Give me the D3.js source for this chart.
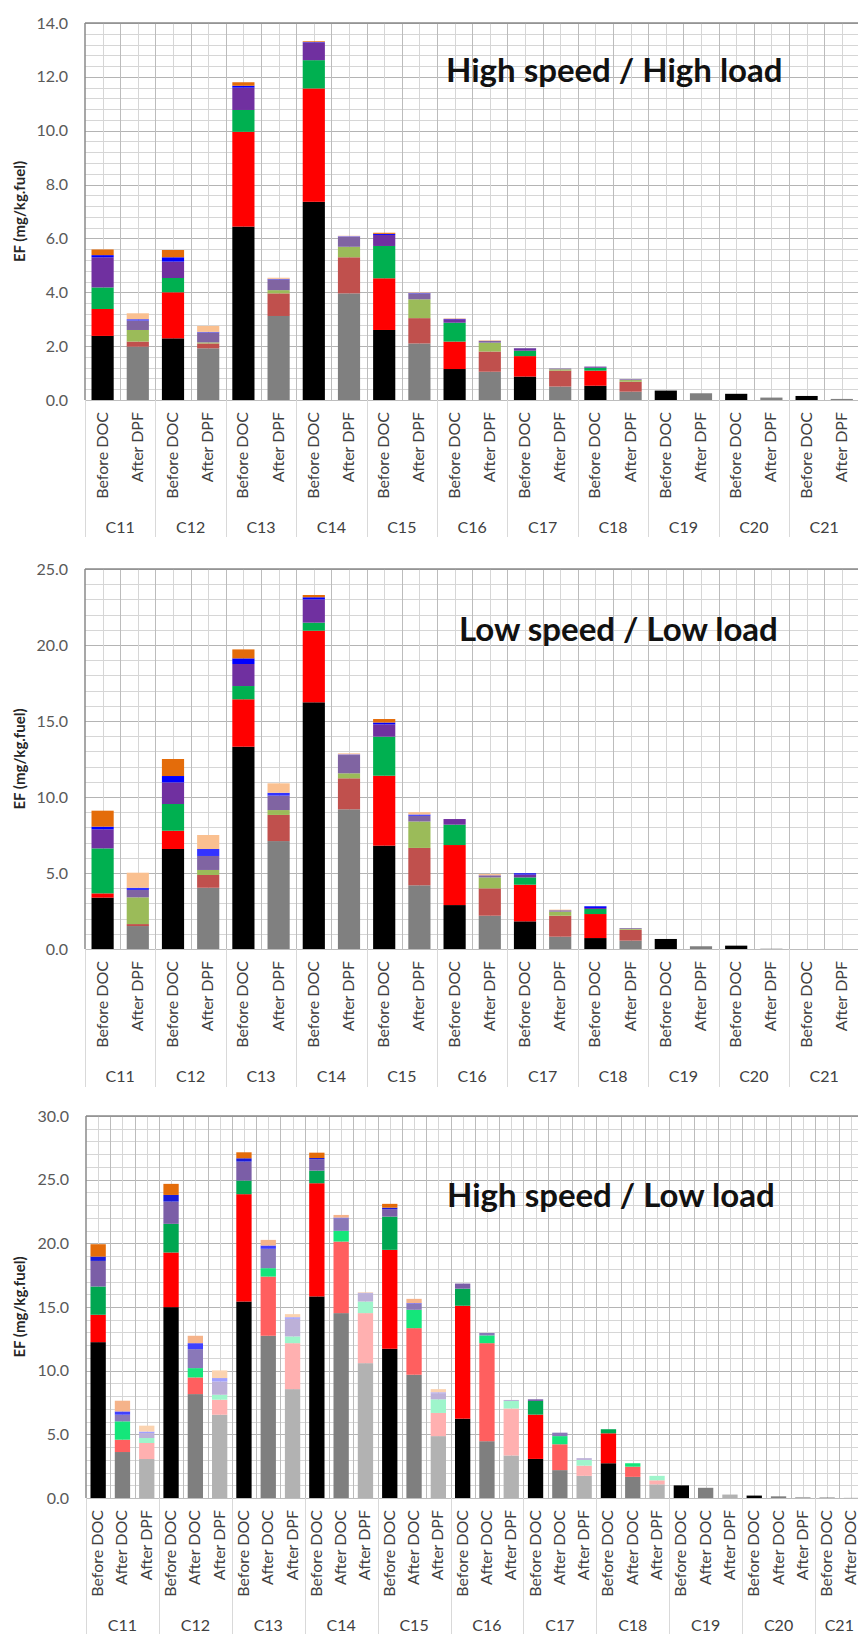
<!DOCTYPE html>
<html>
<head>
<meta charset="utf-8">
<script src="https://cdn.jsdelivr.net/npm/d3@7"></script>
<style>
  body { margin: 0; background: #fff; }
  text { font-family: Lato, "Open Sans", sans-serif; }
</style>
</head>
<body>
<svg id="chart" width="858" height="1634"></svg>
<script>
const groups = ["C11", "C12", "C13", "C14", "C15", "C16", "C17", "C18", "C19", "C20", "C21"];
const twoStages = ["Before DOC", "After DPF"];
const threeStages = ["Before DOC", "After DOC", "After DPF"];
const layers = ["l0", "l1", "l2", "l3", "l4", "l5"];

// segment heights per group, bottom layer first (mg/kg.fuel); null = no bar in that slot
const hhBeforeDoc = [
  [2.38, 1.00, 0.80, 1.12, 0.08, 0.21],
  [2.29, 1.71, 0.53, 0.61, 0.16, 0.27],
  [6.44, 3.52, 0.81, 0.83, 0.07, 0.13],
  [7.36, 4.21, 1.05, 0.65, 0.02, 0.03],
  [2.60, 1.92, 1.20, 0.41, 0.04, 0.04],
  [1.15, 1.02, 0.70, 0.13, 0.01, 0.01],
  [0.87, 0.76, 0.20, 0.07, 0.02, 0.01],
  [0.53, 0.56, 0.11, 0.04, 0, 0],
  [0.35, 0, 0, 0, 0, 0],
  [0.23, 0, 0, 0, 0, 0],
  [0.15, 0, 0, 0, 0, 0]
];
const hhAfterDpf = [
  [1.98, 0.19, 0.43, 0.35, 0.05, 0.22],
  [1.92, 0.18, 0.04, 0.37, 0.02, 0.22],
  [3.12, 0.84, 0.12, 0.40, 0.02, 0.04],
  [3.96, 1.34, 0.39, 0.37, 0.02, 0.02],
  [2.10, 0.94, 0.70, 0.22, 0.02, 0.02],
  [1.05, 0.75, 0.33, 0.07, 0, 0.02],
  [0.50, 0.59, 0.05, 0.03, 0, 0],
  [0.31, 0.37, 0.06, 0.03, 0, 0],
  [0.25, 0, 0, 0, 0, 0],
  [0.09, 0, 0, 0, 0, 0],
  [0.04, 0, 0, 0, 0, 0]
];
const llBeforeDoc = [
  [3.38, 0.28, 2.96, 1.25, 0.18, 1.05],
  [6.58, 1.20, 1.76, 1.42, 0.42, 1.12],
  [13.31, 3.12, 0.87, 1.45, 0.37, 0.59],
  [16.23, 4.71, 0.53, 1.53, 0.14, 0.15],
  [6.80, 4.60, 2.57, 0.81, 0.12, 0.23],
  [2.89, 3.95, 1.34, 0.37, 0, 0],
  [1.82, 2.41, 0.48, 0.19, 0.08, 0],
  [0.72, 1.58, 0.33, 0.07, 0.11, 0],
  [0.66, 0, 0, 0, 0, 0],
  [0.22, 0, 0, 0, 0, 0],
  [0, 0, 0, 0, 0, 0]
];
const llAfterDpf = [
  [1.51, 0.13, 1.76, 0.48, 0.15, 0.99],
  [4.03, 0.84, 0.33, 0.92, 0.46, 0.92],
  [7.10, 1.72, 0.32, 0.95, 0.19, 0.62],
  [9.19, 2.04, 0.33, 1.20, 0.04, 0.07],
  [4.19, 2.46, 1.74, 0.37, 0.09, 0.15],
  [2.19, 1.80, 0.72, 0.14, 0, 0.08],
  [0.81, 1.38, 0.27, 0.09, 0, 0.04],
  [0.55, 0.72, 0.06, 0.05, 0, 0],
  [0.18, 0, 0, 0, 0, 0],
  [0.02, 0, 0, 0, 0, 0],
  [0, 0, 0, 0, 0, 0]
];
const hlBeforeDoc = [
  [12.24, 2.15, 2.22, 2.01, 0.34, 0.97],
  [14.99, 4.29, 2.25, 1.75, 0.52, 0.87],
  [15.43, 8.43, 1.07, 1.49, 0.26, 0.47],
  [15.83, 8.89, 0.99, 0.89, 0.10, 0.42],
  [11.72, 7.77, 2.61, 0.58, 0.12, 0.30],
  [6.23, 8.87, 1.34, 0.40, 0, 0],
  [3.07, 3.48, 1.07, 0.13, 0, 0],
  [2.73, 2.35, 0.32, 0, 0, 0],
  [0.99, 0, 0, 0, 0, 0],
  [0.19, 0, 0, 0, 0, 0],
  [0.02, 0, 0, 0, 0, 0]
];
const hlAfterDoc = [
  [3.61, 0.97, 1.44, 0.52, 0.26, 0.84],
  [8.16, 1.31, 0.73, 1.49, 0.47, 0.58],
  [12.74, 4.65, 0.66, 1.52, 0.26, 0.44],
  [14.52, 5.62, 0.84, 0.99, 0.05, 0.21],
  [9.68, 3.66, 1.44, 0.47, 0.05, 0.34],
  [4.46, 7.70, 0.61, 0.19, 0, 0],
  [2.19, 2.03, 0.64, 0.27, 0, 0],
  [1.66, 0.80, 0.27, 0, 0, 0],
  [0.80, 0, 0, 0, 0, 0],
  [0.13, 0, 0, 0, 0, 0],
  [0.01, 0, 0, 0, 0, 0]
];
const hlAfterDpf = [
  [3.06, 1.26, 0.39, 0.39, 0.12, 0.46],
  [6.54, 1.18, 0.39, 1.04, 0.27, 0.60],
  [8.55, 3.61, 0.53, 1.38, 0.13, 0.24],
  [10.59, 3.93, 0.91, 0.66, 0.03, 0.05],
  [4.86, 1.82, 1.07, 0.48, 0.07, 0.25],
  [3.34, 3.69, 0.59, 0.08, 0, 0],
  [1.74, 0.80, 0.45, 0.14, 0, 0],
  [1.07, 0.32, 0.35, 0, 0, 0],
  [0.27, 0, 0, 0, 0, 0],
  [0.08, 0, 0, 0, 0, 0],
  null
];

const beforeDocColors = ["#000000", "#ff0000", "#00b050", "#7030a0", "#0000ff", "#e46c0a"];
const afterDpfColors = ["#808080", "#c0504d", "#9bbb59", "#8064a2", "#3333ff", "#fac090"];
const hlBeforeDocColors = ["#000000", "#ff0000", "#00a651", "#7b5ea7", "#1a1ad8", "#e46c0a"];
const hlAfterDocColors = ["#7f7f7f", "#ff5f5f", "#14e67a", "#8a78b8", "#4040ff", "#f5b38a"];
const hlAfterDpfColors = ["#b2b2b2", "#ffb0b0", "#9ef5cb", "#bcb0d8", "#a0a0ff", "#fbd3b0"];

const svg = d3.select("#chart");

function drawPanel(p) {
  const rows = [];
  groups.forEach((g, gi) => {
    p.stages.forEach(s => {
      const vals = p.data[s][gi];
      if (vals == null) return;
      const row = { key: g + "|" + s, group: g, stage: s };
      layers.forEach((l, i) => row[l] = vals[i]);
      rows.push(row);
    });
  });
  const keys = rows.map(r => r.key);

  const x = d3.scaleBand()
    .domain(keys)
    .range([p.left, p.left + p.step * keys.length])
    .paddingInner(0.37)
    .paddingOuter(0.185);
  const y = d3.scaleLinear().domain([0, p.yMax]).range([p.bottom, p.top]);
  const step = x.step();
  const x0 = x.range()[0];
  const right = x.range()[1];

  const g = svg.append("g");

  // horizontal grid
  g.selectAll(".hminor")
    .data(d3.range(0, p.yMax + 1e-9, p.minor))
    .enter().append("line")
    .attr("x1", x0).attr("x2", right)
    .attr("y1", d => Math.round(y(d)) + 0.5).attr("y2", d => Math.round(y(d)) + 0.5)
    .attr("stroke", "#d6d6d6").attr("stroke-width", 1);
  g.selectAll(".hmajor")
    .data(d3.range(0, p.yMax + 1e-9, p.major))
    .enter().append("line")
    .attr("x1", x0).attr("x2", right)
    .attr("y1", d => Math.round(y(d)) + 0.5).attr("y2", d => Math.round(y(d)) + 0.5)
    .attr("stroke", "#b4b4b4").attr("stroke-width", 1);

  // vertical grid: slot edges and slot centres
  g.selectAll(".vcenter")
    .data(keys)
    .enter().append("line")
    .attr("x1", d => Math.round(x(d) + x.bandwidth() / 2) + 0.5)
    .attr("x2", d => Math.round(x(d) + x.bandwidth() / 2) + 0.5)
    .attr("y1", p.top).attr("y2", p.bottom)
    .attr("stroke", "#d6d6d6").attr("stroke-width", 1);
  g.selectAll(".vedge")
    .data(d3.range(1, keys.length + 1))
    .enter().append("line")
    .attr("x1", i => Math.round(x0 + i * step) + 0.5)
    .attr("x2", i => Math.round(x0 + i * step) + 0.5)
    .attr("y1", p.top).attr("y2", p.bottom)
    .attr("stroke", "#bcbcbc").attr("stroke-width", 1);

  // stacked bars
  const series = d3.stack().keys(layers)(rows);
  series.forEach((layer, li) => {
    g.selectAll(".bar" + li)
      .data(layer)
      .enter().append("rect")
      .attr("x", d => x(d.data.key))
      .attr("width", x.bandwidth())
      .attr("y", d => y(d[1]))
      .attr("height", d => Math.max(0, y(d[0]) - y(d[1])))
      .attr("fill", d => p.colors[d.data.stage][li]);
  });

  // frame
  g.append("line").attr("x1", x0).attr("x2", right)
    .attr("y1", p.top).attr("y2", p.top)
    .attr("stroke", "#8a8a8a").attr("stroke-width", 1.5);
  g.append("line").attr("x1", x0).attr("x2", x0)
    .attr("y1", p.top).attr("y2", p.bottom)
    .attr("stroke", "#8a8a8a").attr("stroke-width", 1.5);
  g.append("line").attr("x1", x0).attr("x2", right)
    .attr("y1", p.bottom + 0.5).attr("y2", p.bottom + 0.5)
    .attr("stroke", "#bdbdbd").attr("stroke-width", 1);

  // y axis
  const yAxis = d3.axisLeft(y)
    .tickValues(d3.range(0, p.yMax + 1e-9, p.major))
    .tickFormat(d3.format(".1f"))
    .tickSize(0)
    .tickPadding(17);
  const ya = g.append("g").attr("transform", `translate(${x0},0)`).call(yAxis);
  ya.select(".domain").remove();
  ya.selectAll("text")
    .style("font-family", "Lato, 'Open Sans', sans-serif")
    .style("font-size", "16px")
    .attr("fill", "#595959");

  g.append("text")
    .attr("transform", `translate(21,${(p.top + p.bottom) / 2}) rotate(-90)`)
    .attr("text-anchor", "middle")
    .attr("dominant-baseline", "middle")
    .style("font-size", "15px")
    .style("font-weight", "bold")
    .attr("fill", "#262626")
    .text("EF (mg/kg.fuel)");

  // category labels
  g.selectAll(".xlab")
    .data(rows)
    .enter().append("text")
    .attr("transform", d => `translate(${x(d.key) + x.bandwidth() / 2 + 5},${p.bottom + 12}) rotate(-90)`)
    .attr("text-anchor", "end")
    .style("font-size", "16px")
    .attr("fill", "#404040")
    .text(d => d.stage);

  // group extents from the slots each group occupies
  const spans = groups.map(gr => {
    const idx = keys.map((k, i) => k.startsWith(gr + "|") ? i : -1).filter(i => i >= 0);
    return { group: gr, start: x0 + idx[0] * step, end: x0 + (idx[idx.length - 1] + 1) * step };
  });

  g.selectAll(".gdiv")
    .data([spans[0].start].concat(spans.map(s => s.end)))
    .enter().append("line")
    .attr("x1", d => Math.round(d) + 0.5)
    .attr("x2", d => Math.round(d) + 0.5)
    .attr("y1", p.bottom).attr("y2", p.bottom + p.divLen)
    .attr("stroke", "#d9d9d9").attr("stroke-width", 1);

  g.selectAll(".glab")
    .data(spans)
    .enter().append("text")
    .attr("x", d => (d.start + d.end) / 2)
    .attr("y", p.bottom + 133)
    .attr("text-anchor", "middle")
    .style("font-size", "16px")
    .attr("fill", "#404040")
    .text(d => d.group);

  g.append("text")
    .attr("x", p.titleX).attr("y", p.titleY)
    .style("font-size", "33px")
    .style("font-weight", "bold")
    .attr("fill", "#111")
    .text(p.title);
}

drawPanel({
  title: "High speed / High load",
  stages: twoStages,
  data: { "Before DOC": hhBeforeDoc, "After DPF": hhAfterDpf },
  colors: { "Before DOC": beforeDocColors, "After DPF": afterDpfColors },
  top: 23, bottom: 400, left: 85, step: 35.2,
  yMax: 14, major: 2, minor: 0.4, divLen: 137,
  titleX: 446, titleY: 82
});

drawPanel({
  title: "Low speed / Low load",
  stages: twoStages,
  data: { "Before DOC": llBeforeDoc, "After DPF": llAfterDpf },
  colors: { "Before DOC": beforeDocColors, "After DPF": afterDpfColors },
  top: 569, bottom: 949, left: 85, step: 35.2,
  yMax: 25, major: 5, minor: 1, divLen: 138,
  titleX: 459, titleY: 641
});

drawPanel({
  title: "High speed / Low load",
  stages: threeStages,
  data: { "Before DOC": hlBeforeDoc, "After DOC": hlAfterDoc, "After DPF": hlAfterDpf },
  colors: { "Before DOC": hlBeforeDocColors, "After DOC": hlAfterDocColors, "After DPF": hlAfterDpfColors },
  top: 1116, bottom: 1498, left: 86, step: 24.3,
  yMax: 30, major: 5, minor: 1, divLen: 136,
  titleX: 447, titleY: 1207
});
</script>
</body>
</html>
